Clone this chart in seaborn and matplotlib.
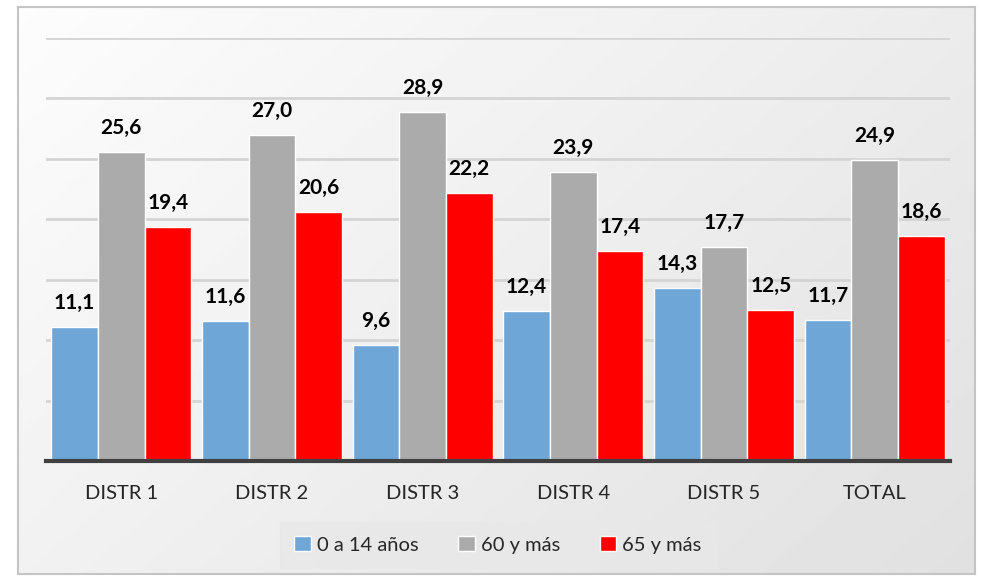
import numpy as np
import pandas as pd
import seaborn as sns
import matplotlib.pyplot as plt

# datos
distritos = ["DISTR 1", "DISTR 2", "DISTR 3", "DISTR 4", "DISTR 5", "TOTAL"]
grupos = ["0 a 14 años", "60 y más", "65 y más"]
v_0_14 = [11.1, 11.6, 9.6, 12.4, 14.3, 11.7]
v_60 = [25.6, 27.0, 28.9, 23.9, 17.7, 24.9]
v_65 = [19.4, 20.6, 22.2, 17.4, 12.5, 18.6]
colores = ["#6FA6D8", "#ABABAB", "#FF0000"]

df = pd.DataFrame({
    "distrito": distritos * 3,
    "grupo": [grupos[0]] * 6 + [grupos[1]] * 6 + [grupos[2]] * 6,
    "valor": v_0_14 + v_60 + v_65,
})

sns.set_style("white")
plt.rcParams['font.family'] = ['Lato', 'DejaVu Sans']

fig = plt.figure(figsize=(9.81, 5.8), dpi=100)

# fondo con degradado
bg = fig.add_axes([18 / 981, 6 / 580, 957 / 981, 567 / 580], zorder=-5)
xx, yy = np.meshgrid(np.linspace(0, 1, 200), np.linspace(0, 1, 200))
grad = 0.99 - 0.11 * (0.6 * xx + 0.4 * yy)
bg.imshow(grad, cmap="gray", vmin=0, vmax=1, aspect="auto", extent=[0, 1, 0, 1], origin="upper")
bg.set_xticks([])
bg.set_yticks([])
for s in bg.spines.values():
    s.set_color("#c4c4c4")
    s.set_linewidth(1.5)

ax = fig.add_axes([46 / 981, 119 / 580, 904 / 981, 423 / 580])
ax.patch.set_alpha(0)

sns.barplot(data=df, x="distrito", y="valor", hue="grupo", palette=colores,
            saturation=1, width=0.93, edgecolor="white", linewidth=1, ax=ax, zorder=3)

for cont in ax.containers:
    etiquetas = [f"{b.get_height():.1f}".replace(".", ",") for b in cont]
    ax.bar_label(cont, labels=etiquetas, padding=10, fontsize=15,
                 fontweight="bold", color="black")

ax.set_ylim(0, 35)
ax.set_yticks(np.arange(0, 36, 5))
ax.set_yticklabels([])
ax.tick_params(axis="y", length=0)
ax.tick_params(axis="x", length=0, labelsize=14.5, pad=17, colors="#262626")
ax.grid(axis="y", color="#d4d4d4", linewidth=2, zorder=0)
ax.set_axisbelow(True)
ax.set_xlabel("")
ax.set_ylabel("")
for lado in ["top", "right", "left"]:
    ax.spines[lado].set_visible(False)
ax.spines["bottom"].set_color("#404040")
ax.spines["bottom"].set_linewidth(3)
ax.spines["bottom"].set_zorder(4)

leg = ax.legend(loc="upper center", bbox_to_anchor=(0.5, -0.12), ncol=3,
                frameon=True, fontsize=14.5, handlelength=0.8, handleheight=0.8,
                handletextpad=0.3, columnspacing=2.0, borderpad=0.7, fancybox=False)
leg.get_frame().set_facecolor("#e8e8e8")
leg.get_frame().set_edgecolor("#e8e8e8")

fig.savefig("out.png", dpi=100)
